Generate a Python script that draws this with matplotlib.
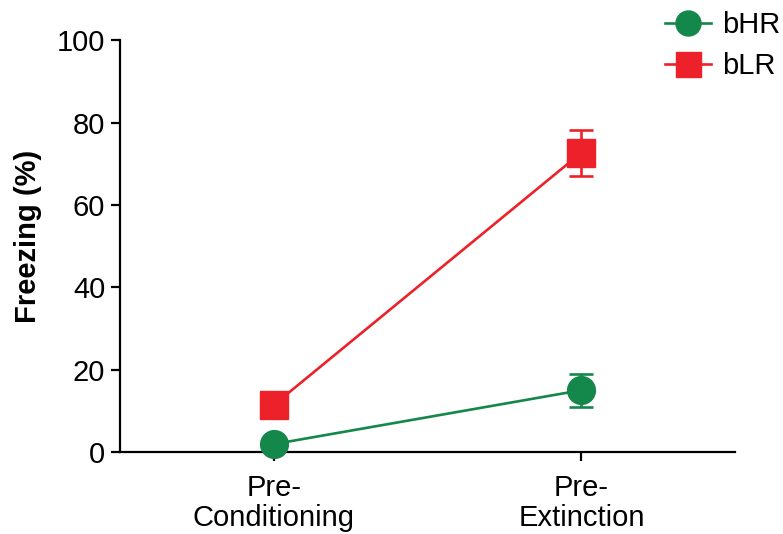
import matplotlib
matplotlib.use("Agg")
import matplotlib.pyplot as plt
from matplotlib.lines import Line2D

plt.rcParams['font.family'] = ['Liberation Sans', 'DejaVu Sans']

phases = ["Pre-\nConditioning", "Pre-\nExtinction"]
bhr_mean = [1.9, 15.0]
bhr_sem = [0.0, 4.0]
blr_mean = [11.4, 72.7]
blr_sem = [0.0, 5.6]

green = '#14874a'
red = '#ec2129'

fig = plt.figure(figsize=(7.83, 5.34), dpi=100)
ax = fig.add_axes([0.153, 0.1536, 0.786, 0.771])

x = list(range(len(phases)))
ax.errorbar(x, blr_mean, yerr=blr_sem, color=red, marker='s', markersize=20,
            linewidth=1.9, capsize=8.5, capthick=1.9, elinewidth=1.9, zorder=3,
            clip_on=False)
ax.errorbar(x, bhr_mean, yerr=bhr_sem, color=green, marker='o', markersize=20,
            linewidth=1.9, capsize=8.5, capthick=1.9, elinewidth=1.9, zorder=4,
            clip_on=False)

ax.set_xlim(-0.5, 1.5)
ax.set_ylim(0, 100)
ax.set_yticks([0, 20, 40, 60, 80, 100])
ax.set_xticks(x)
ax.set_xticklabels(phases, linespacing=1.1)
ax.set_ylabel("Freezing (%)", fontsize=21, fontweight='bold')
ax.yaxis.set_label_coords(-0.127, 0.524)

for s in ['top', 'right']:
    ax.spines[s].set_visible(False)
for s in ['left', 'bottom']:
    ax.spines[s].set_linewidth(1.6)
ax.tick_params(axis='both', labelsize=21, width=1.6, length=6.5, direction='out')
ax.tick_params(axis='x', pad=9.5)
ax.tick_params(axis='y', pad=4)

handles = [
    Line2D([], [], color=green, marker='o', markersize=18, linewidth=1.9),
    Line2D([], [], color=red, marker='s', markersize=18, linewidth=1.9),
]
fig.legend(handles, ["bHR", "bLR"], loc='upper left', bbox_to_anchor=(0.849, 0.979),
           frameon=False, fontsize=21, handlelength=1.6, handletextpad=0.35,
           labelspacing=0.45, borderaxespad=0, borderpad=0)

fig.savefig("out.png", dpi=100)
